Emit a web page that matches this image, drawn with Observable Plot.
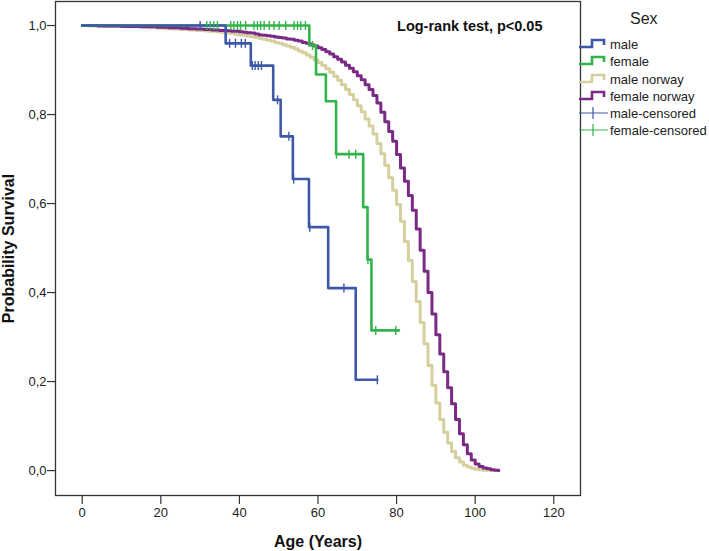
<!DOCTYPE html>
<html>
<head>
<meta charset="utf-8">
<script src="https://cdn.jsdelivr.net/npm/d3@7"></script>
<script src="https://cdn.jsdelivr.net/npm/@observablehq/plot@0.6"></script>
<style>
  html, body { margin: 0; padding: 0; background: #fff; }
  #wrap { position: relative; width: 709px; height: 551px; font-family: "Liberation Sans", Arial, sans-serif; }
  g[aria-label="x-axis label"] text, g[aria-label="y-axis label"] text { font-weight: bold; font-size: 16px; fill: #111; }
  #legend { position: absolute; left: 578px; top: 8px; font-size: 13px; color: #222; }
  #legend .title { position: absolute; left: 52px; top: 2px; font-size: 16px; color: #222; }
  #legend .row { position: absolute; left: 0; height: 16px; display: flex; align-items: center; white-space: nowrap; }
  #legend svg { margin-right: 2px; }
</style>
</head>
<body>
<div id="wrap"></div>
<script>
// ---- data ----
const maleAges = [0, 36.5, 42.9, 48.6, 50.5, 53.6, 57.7, 62.6, 69.6, 75.1];
const maleSurv = [1.0, 0.96, 0.91, 0.833, 0.751, 0.655, 0.547, 0.41, 0.204, 0.204];
const femaleAges = [0, 57.8, 59.5, 62.0, 64.6, 71.5, 72.6, 73.6, 80.6];
const femaleSurv = [1.0, 0.955, 0.89, 0.83, 0.711, 0.592, 0.474, 0.315, 0.315];

const maleCensAges = [30, 37.5, 39, 40.5, 41.5, 43.3, 44.0, 44.8, 45.6, 49.7, 52.6, 53.8, 57.9, 66.6, 75.1];
const maleCensSurv = [1.0, 0.96, 0.96, 0.96, 0.96, 0.91, 0.91, 0.91, 0.91, 0.833, 0.751, 0.655, 0.547, 0.41, 0.204];
const femaleCensAges = [31.7, 32.6, 33.5, 34.4, 37.8, 38.6, 39.5, 40.3, 41.6, 43.7, 44.6, 45.4, 46.3, 47.6, 48.8, 50.1, 51.8, 53.9, 54.8, 55.6, 56.8, 58.6, 64.7, 67.9, 69.6, 72.7, 74.7, 79.8];
const femaleCensSurv = [1, 1, 1, 1, 1, 1, 1, 1, 1, 1, 1, 1, 1, 1, 1, 1, 1, 1, 1, 1, 1, 0.955, 0.711, 0.711, 0.711, 0.474, 0.315, 0.315];

const norwayAges = [
  0, 1, 2, 3, 4, 5, 6, 7, 8, 9, 10, 11, 12, 13, 14, 15, 16, 17, 18, 19,
  20, 21, 22, 23, 24, 25, 26, 27, 28, 29, 30, 31, 32, 33, 34, 35, 36, 37, 38, 39,
  40, 41, 42, 43, 44, 45, 46, 47, 48, 49, 50, 51, 52, 53, 54, 55, 56, 57, 58, 59,
  60, 61, 62, 63, 64, 65, 66, 67, 68, 69, 70, 71, 72, 73, 74, 75, 76, 77, 78, 79,
  80, 81, 82, 83, 84, 85, 86, 87, 88, 89, 90, 91, 92, 93, 94, 95, 96, 97, 98, 99,
  100, 101, 102, 103, 104, 105, 106];
const maleNorwaySurv = [
  1.000, 1.000, 0.999, 0.999, 0.999, 0.999, 0.998, 0.998, 0.998, 0.998,
  0.998, 0.997, 0.997, 0.997, 0.997, 0.996, 0.996, 0.995, 0.995, 0.994,
  0.994, 0.993, 0.993, 0.992, 0.992, 0.991, 0.991, 0.990, 0.990, 0.989,
  0.989, 0.988, 0.987, 0.987, 0.986, 0.985, 0.984, 0.983, 0.982, 0.980,
  0.979, 0.978, 0.976, 0.975, 0.973, 0.971, 0.969, 0.967, 0.965, 0.962,
  0.960, 0.957, 0.954, 0.951, 0.947, 0.943, 0.939, 0.934, 0.929, 0.923,
  0.917, 0.910, 0.903, 0.895, 0.886, 0.877, 0.867, 0.856, 0.845, 0.833,
  0.820, 0.806, 0.790, 0.774, 0.756, 0.735, 0.712, 0.686, 0.658, 0.630,
  0.598, 0.560, 0.515, 0.472, 0.425, 0.380, 0.333, 0.285, 0.236, 0.192,
  0.152, 0.115, 0.086, 0.062, 0.043, 0.029, 0.019, 0.012, 0.008, 0.005,
  0.003, 0.002, 0.001, 0.001, 0.000, 0.000, 0.000];
const femaleNorwaySurv = [
  1.000, 1.000, 1.000, 1.000, 0.999, 0.999, 0.999, 0.999, 0.999, 0.999,
  0.998, 0.998, 0.998, 0.998, 0.998, 0.997, 0.997, 0.997, 0.997, 0.996,
  0.996, 0.996, 0.995, 0.995, 0.995, 0.994, 0.994, 0.993, 0.993, 0.992,
  0.992, 0.991, 0.991, 0.990, 0.990, 0.989, 0.989, 0.988, 0.987, 0.987,
  0.986, 0.985, 0.984, 0.983, 0.981, 0.979, 0.978, 0.977, 0.976, 0.974,
  0.973, 0.972, 0.970, 0.969, 0.967, 0.965, 0.962, 0.960, 0.957, 0.954,
  0.950, 0.946, 0.941, 0.936, 0.930, 0.924, 0.918, 0.911, 0.904, 0.896,
  0.887, 0.878, 0.867, 0.856, 0.843, 0.826, 0.805, 0.784, 0.762, 0.740,
  0.710, 0.680, 0.650, 0.618, 0.585, 0.543, 0.495, 0.448, 0.400, 0.352,
  0.305, 0.262, 0.222, 0.186, 0.150, 0.115, 0.083, 0.058, 0.038, 0.024,
  0.015, 0.009, 0.006, 0.004, 0.002, 0.001, 0.000];

const xTicks = [0, 20, 40, 60, 80, 100, 120];
const yTicks = [0, 0.2, 0.4, 0.6, 0.8, 1.0];
const legendLabels = ["male", "female", "male norway", "female norway", "male-censored", "female-censored"];
const legendKinds = ["step", "step", "step", "step", "cross", "cross"];
const colors = {male: "#3D58A8", female: "#33B34B", maleNorway: "#D5CF9E", femaleNorway: "#7A2A85"};
const legendColors = [colors.male, colors.female, colors.maleNorway, colors.femaleNorway, colors.male, colors.female];

// ---- build tables ----
const toRows = (xs, ys) => xs.map((x, i) => ({x, y: ys[i]}));
const male = toRows(maleAges, maleSurv);
const female = toRows(femaleAges, femaleSurv);
const maleCens = toRows(maleCensAges, maleCensSurv);
const femaleCens = toRows(femaleCensAges, femaleCensSurv);
const maleNorway = toRows(norwayAges, maleNorwaySurv);
const femaleNorway = toRows(norwayAges, femaleNorwaySurv);

const vbar = {draw(context, size) { const h = Math.sqrt(size / Math.PI); context.moveTo(0, -h); context.lineTo(0, h); }};
const fmt = d => d.toFixed(1).replace(".", ",");

const chart = Plot.plot({
  width: 709,
  height: 551,
  marginLeft: 55,
  marginRight: 129,
  marginTop: 1,
  marginBottom: 56,
  style: {fontFamily: "'Liberation Sans', Arial, sans-serif", fontSize: "13px", color: "#222", background: "#fff"},
  x: {domain: [-6.8, 126.8]},
  y: {domain: [-0.056, 1.054]},
  marks: [
    Plot.line(maleNorway, {x: "x", y: "y", curve: "step-after", stroke: colors.maleNorway, strokeWidth: 3}),
    Plot.line(femaleNorway, {x: "x", y: "y", curve: "step-after", stroke: colors.femaleNorway, strokeWidth: 3}),
    Plot.line(female, {x: "x", y: "y", curve: "step-after", stroke: colors.female, strokeWidth: 2.6}),
    Plot.line(male, {x: "x", y: "y", curve: "step-after", stroke: colors.male, strokeWidth: 2.6}),
    Plot.dot(femaleCens, {x: "x", y: "y", symbol: vbar, r: 4.5, stroke: colors.female, strokeWidth: 1.4, fill: "none"}),
    Plot.dot(maleCens, {x: "x", y: "y", symbol: vbar, r: 4.5, stroke: colors.male, strokeWidth: 1.4, fill: "none"}),
    Plot.axisX({ticks: xTicks, tickSize: 9, tickPadding: 3, stroke: "#333", strokeWidth: 1.2, label: "Age (Years)", labelAnchor: "center", labelArrow: "none", labelOffset: 51}),
    Plot.axisY({ticks: yTicks, tickSize: 8, tickPadding: 1, tickFormat: fmt, stroke: "#333", strokeWidth: 1.2, label: "Probability Survival", labelAnchor: "center", labelArrow: "none", labelOffset: 53}),
    Plot.frame({stroke: "#333", strokeWidth: 1.3}),
    Plot.text(["Log-rank test, p<0.05"], {frameAnchor: "top-right", dx: -38, dy: 19, text: d => d, fontWeight: "bold", fontSize: 14.5, fill: "#111", textAnchor: "end"})
  ]
});

const wrap = document.getElementById("wrap");
wrap.appendChild(chart);

// ---- legend ----
const legend = document.createElement("div");
legend.id = "legend";
const title = document.createElement("div");
title.className = "title";
title.textContent = "Sex";
legend.appendChild(title);
const rowTops = [28, 45, 63, 80, 97, 114];
legendLabels.forEach((lab, i) => {
  const row = document.createElement("div");
  row.className = "row";
  row.style.top = rowTops[i] + "px";
  const ns = "http://www.w3.org/2000/svg";
  const s = document.createElementNS(ns, "svg");
  s.setAttribute("width", "30"); s.setAttribute("height", "16");
  const p = document.createElementNS(ns, "path");
  if (legendKinds[i] === "step") {
    p.setAttribute("d", "M1,11 H14 V4 H26 V9");
    p.setAttribute("stroke-width", "2.6");
  } else {
    p.setAttribute("d", "M1,8 H30 M15,2 V14");
    p.setAttribute("stroke-width", "1.2");
  }
  p.setAttribute("fill", "none");
  p.setAttribute("stroke", legendColors[i]);
  s.appendChild(p);
  row.appendChild(s);
  const t = document.createElement("span");
  t.textContent = lab;
  row.appendChild(t);
  legend.appendChild(row);
});
wrap.appendChild(legend);
</script>
</body>
</html>
